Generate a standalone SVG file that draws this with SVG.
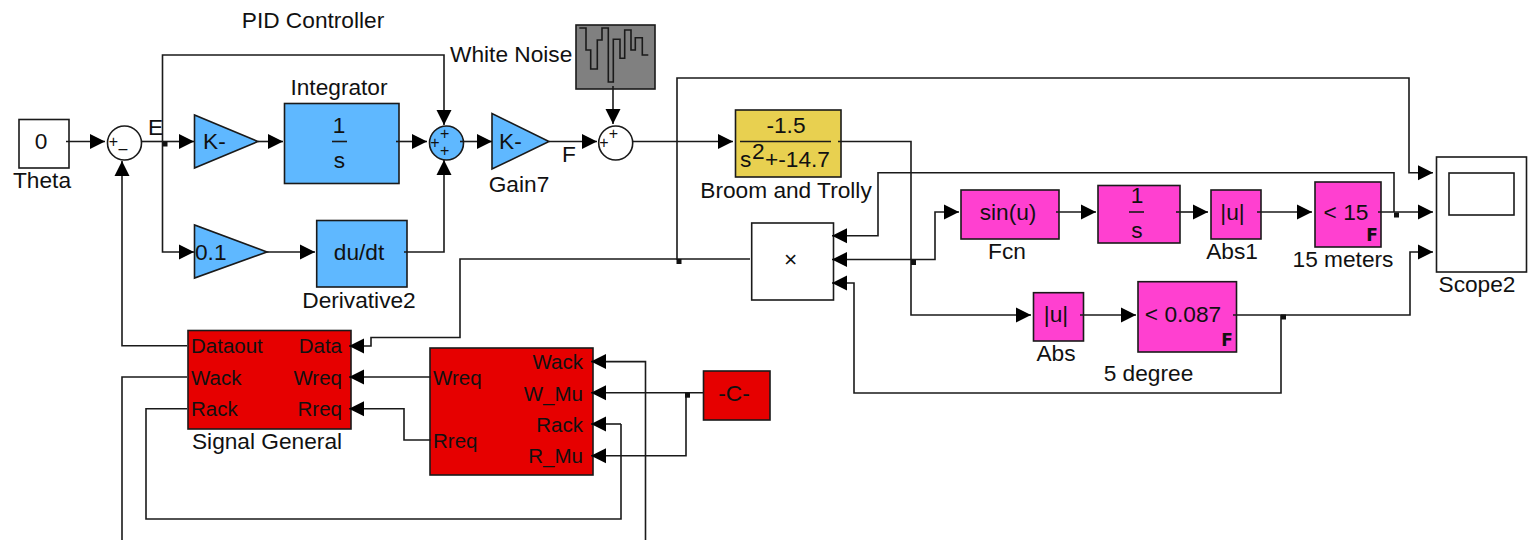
<svg xmlns="http://www.w3.org/2000/svg" width="1528" height="540" viewBox="0 0 1528 540">
<style>
text{font-family:"Liberation Sans",Arial,sans-serif;font-size:22.700px;fill:#111}
.m{text-anchor:middle}.e{text-anchor:end}
text.s{font-size:16px}
text.p{font-size:20.500px}
.b{stroke:#1a1a1a;stroke-width:1.6}
.w{fill:#fff}.blue{fill:#5fb8ff}.red{fill:#e60000}.mag{fill:#ff40d0}.yel{fill:#e8d050}.gray{fill:#808080}
.c{fill:none;stroke:#1a1a1a;stroke-width:1.6;marker-end:url(#a)}
.n{fill:none;stroke:#1a1a1a;stroke-width:1.6}
.j{fill:#111}
text.f{font-family:"DejaVu Sans",sans-serif;font-weight:bold;font-size:17px;fill:#111}
</style>
<defs><marker id="a" markerUnits="userSpaceOnUse" markerWidth="15" markerHeight="16" refX="15" refY="8" orient="auto"><path d="M0 0.500L15 8L0 15.500Z" fill="#000"/></marker></defs>
<rect width="1528" height="540" fill="#fff"/>
<text id="title" x="313" y="28" class="m">PID Controller</text>
<g id="theta"><rect x="19" y="119.500" width="50" height="48.500" class="b w"/><text x="41" y="149" class="m">0</text><text x="42" y="188" class="m">Theta</text></g>
<g id="sum1"><circle cx="124.500" cy="143" r="17" class="b w"/><text x="113.500" y="147" class="m s">+</text><text x="123" y="153.500" class="m s">–</text></g>
<g id="error"><text x="148" y="135">E</text></g>
<g id="gainP"><path d="M194.500 115L194.500 168L258 141.500Z" class="b blue"/><text x="203" y="149">K-</text></g>
<g id="integrator"><rect x="284.500" y="103.500" width="114.500" height="80" class="b blue"/><text x="339" y="133" class="m">1</text><path d="M332 141.500H347" class="n"/><text x="339.500" y="168" class="m">s</text><text x="339" y="94.500" class="m">Integrator</text></g>
<g id="gainD"><path d="M194.500 225L194.500 278L267 252Z" class="b blue"/><text x="195" y="259.500">0.1</text></g>
<g id="derivative"><rect x="316.700" y="220.500" width="90.300" height="66.500" class="b blue"/><text x="359" y="259.500" class="m">du/dt</text><text x="359" y="308" class="m">Derivative2</text></g>
<g id="sum2"><circle cx="446.500" cy="143" r="17" class="b blue"/><text x="444.700" y="139" class="m s">+</text><text x="435" y="147.500" class="m s">+</text><text x="444.700" y="155.500" class="m s">+</text></g>
<g id="gain7"><path d="M492 113.500L492 169L549 141.500Z" class="b blue"/><text x="499" y="149">K-</text><text x="519" y="192" class="m">Gain7</text></g>
<g id="fsignal"><text x="562" y="162">F</text></g>
<g id="noise"><rect x="576" y="25" width="79" height="64" class="b gray"/><path d="M579.300 28H586V50H590.700V69H597.300V40H602V28H608.300V82H613.300V39.300H620V58.300H624.700V30H631V50H635.300V37.700H642.300V55H648.300" class="n"/><text x="450" y="62">White Noise</text></g>
<g id="sum3"><circle cx="615.700" cy="143" r="17" class="b w"/><text x="613.500" y="139" class="m s">+</text><text x="604" y="147.500" class="m s">+</text></g>
<g id="broom"><rect x="735.500" y="110" width="105.500" height="67" class="b yel"/><text x="786" y="133" class="m">-1.5</text><path d="M740 141.500H831" class="n"/><text x="740" y="167">s</text><text x="752" y="159">2</text><text x="765" y="167">+-14.7</text><text x="786" y="198" class="m">Broom and Trolly</text></g>
<g id="mux"><rect x="751.700" y="223" width="81.800" height="77" class="b w"/><text x="790.500" y="267" class="m">×</text></g>
<g id="fcn"><rect x="961" y="190" width="98" height="49" class="b mag"/><text x="1008" y="220" class="m">sin(u)</text><text x="1007" y="259" class="m">Fcn</text></g>
<g id="int2"><rect x="1098" y="185.500" width="82" height="57.500" class="b mag"/><text x="1137" y="203" class="m">1</text><path d="M1129 212H1144" class="n"/><text x="1137" y="238" class="m">s</text></g>
<g id="abs1"><rect x="1211" y="190" width="50" height="49" class="b mag"/><text x="1232.500" y="220" class="m">|u|</text><text x="1232" y="259" class="m">Abs1</text></g>
<g id="cmp15"><rect x="1315" y="182" width="66" height="65" class="b mag"/><text x="1346" y="220" class="m">&lt; 15</text><text x="1372" y="241" class="f m">F</text><text x="1343" y="267" class="m">15 meters</text></g>
<g id="abs"><rect x="1033.500" y="292.700" width="50" height="48.300" class="b mag"/><text x="1056" y="322" class="m">|u|</text><text x="1056" y="361" class="m">Abs</text></g>
<g id="cmp087"><rect x="1138" y="281.700" width="98.500" height="70.300" class="b mag"/><text x="1183" y="322" class="m">&lt; 0.087</text><text x="1227" y="346" class="f m">F</text><text x="1148.500" y="381" class="m">5 degree</text></g>
<g id="scope"><rect x="1436.500" y="157" width="90" height="115" class="b w"/><rect x="1449" y="173" width="65" height="42" class="b w"/><text x="1477" y="292" class="m">Scope2</text></g>
<g id="signal"><rect x="188" y="330.500" width="163" height="98.500" class="b red"/><text x="191" y="353" class="p">Dataout</text><text x="191" y="384.500" class="p">Wack</text><text x="191" y="416" class="p">Rack</text><text x="342" y="353" class="e p">Data</text><text x="342" y="384.500" class="e p">Wreq</text><text x="342" y="416" class="e p">Rreq</text><text x="267" y="449" class="m">Signal General</text></g>
<g id="memory"><rect x="430" y="348" width="163" height="127" class="b red"/><text x="433" y="385" class="p">Wreq</text><text x="433" y="448" class="p">Rreq</text><text x="583" y="369" class="e p">Wack</text><text x="583" y="400.700" class="e p">W_Mu</text><text x="583" y="431.700" class="e p">Rack</text><text x="583" y="463" class="e p">R_Mu</text></g>
<g id="const"><rect x="703.500" y="371" width="66.500" height="49" class="b red"/><text x="734" y="401" class="m">-C-</text></g>
<g id="connectors">
<path class="c" d="M66 141.500H105"/>
<path class="n" d="M141 141.500H162.500"/>
<path class="c" d="M162.500 141.500H194"/>
<path class="c" d="M162.500 141.500V55H444V125"/>
<path class="c" d="M162.500 141.500V252H194"/>
<path class="c" d="M258 141.500H283"/>
<path class="c" d="M396 141.500H427"/>
<path class="c" d="M267 252H315"/>
<path class="c" d="M404 252H444V160"/>
<path class="c" d="M460 141.500H492"/>
<path class="c" d="M549 141.500H597"/>
<path class="c" d="M613 86V124"/>
<path class="c" d="M632 141.500H733"/>
<path class="c" d="M838 141.500H911V315H1031"/>
<path class="c" d="M1056 212H1096"/>
<path class="c" d="M1176 212H1208"/>
<path class="c" d="M1257 212H1312"/>
<path class="c" d="M1378 212H1433"/>
<path class="c" d="M1394 212V172.700H878V235.700H832"/>
<path class="c" d="M911 259.500H832"/>
<path class="c" d="M911 259.500H935V212H959"/>
<path class="c" d="M1080 315H1136"/>
<path class="c" d="M1233 315H1410V252H1433"/>
<path class="c" d="M1281 315V393H854V283H832"/>
<path class="c" d="M750 259H677V78H1409V172.700H1433"/>
<path class="c" d="M677 259H460V337.500H371V346H349"/>
<path class="c" d="M187 345.700H122V161"/>
<path class="n" d="M187 377H122V540"/>
<path class="n" d="M187 408.700H146V519H621V424"/>
<path class="c" d="M621 424H591"/>
<path class="c" d="M431 377H349"/>
<path class="c" d="M431 440H404V408.700H349"/>
<path class="c" d="M645.500 540V361.600H591"/>
<path class="c" d="M703 392.700H591"/>
<path class="c" d="M686 392.700V455.700H591"/>
<rect class="j" x="162.500" y="141.500" width="5" height="5"/>
<rect class="j" x="676.500" y="259" width="5" height="5"/>
<rect class="j" x="911" y="260" width="5" height="5"/>
<rect class="j" x="1394" y="212.500" width="5" height="5"/>
<rect class="j" x="1281" y="314.500" width="5" height="5"/>
<rect class="j" x="685" y="392.700" width="5" height="5"/>
</g>
</svg>
